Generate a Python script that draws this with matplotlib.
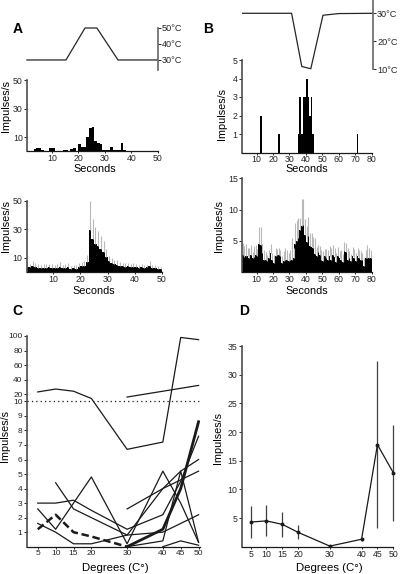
import numpy as np
import matplotlib.pyplot as plt

plt.rcParams['font.family'] = ['Liberation Sans', 'DejaVu Sans']
plt.rcParams['font.size'] = 6.5

W, H = 400, 574
nan = np.nan

# ---- panel A data
a_temp_t = [0.5, 15.3, 22.5, 27, 35, 50]
a_temp_T = [30, 30, 50, 50, 30, 30]
a_top_rate = [0, 0, 0, 1.5, 2, 2, 1, 0, 0, 2, 2, 0, 0, 0, 1, 1, 0, 1.5, 2, 0,
              5, 3, 3, 10, 16, 17, 7, 6, 5, 1, 1, 1, 3, 1, 1, 1, 5.5, 1, 0, 0,
              0, 0, 0, 0, 0, 0, 0, 0, 0, 0]
a_mean_rate = [3.5, 3.6, 4.7, 4.0, 3.0, 3.2, 3.0, 3.1, 3.4, 3.3, 3.0, 3.2, 4.0, 3.0, 3.1,
               4.0, 2.6, 2.8, 2.6, 4.0, 4.2, 4.7, 7.0, 29.6, 23.0, 19.8, 18.6, 16.3, 14.0,
               10.5, 7.7, 6.5, 5.8, 5.1, 4.4, 4.3, 4.0, 4.1, 3.8, 4.0, 3.5, 3.3, 3.6, 3.2,
               3.4, 4.7, 3.0, 3.1, 2.4, 2.3]
a_err = [3, 2.5, 3.5, 2.8, 2.5, 2, 2.7, 2.4, 2.2, 2.5, 2, 2.8, 3.2, 2.2, 2.4, 2.6, 2, 2.2,
         2.4, 2.6, 3, 3.4, 5, 20, 14, 12, 10, 9.3, 8, 5.5, 4, 3.6, 3, 3.2, 2.6, 2.4, 2.2,
         2.4, 2, 2.5, 2.2, 2, 2.4, 2.1, 2, 3, 2, 2.3, 1.8, 1.5]

# ---- panel B data
b_temp_t = [1, 31.3, 37.5, 43, 50.4, 60, 80.9]
b_temp_T = [30, 30, 11, 10.2, 29.3, 29.9, 30]
b_top_sec = [12, 23, 35, 36, 37, 38, 39, 40, 41, 42, 43, 44, 71]
b_top_rate = [2, 1, 1, 3, 1, 3, 3, 4, 3, 2, 3, 1, 1]
b_mean_rate = [3.3, 2.8, 2.4, 2.5, 2.5, 2.3, 2.8, 2.2, 2.4, 2.8, 2.5, 4.5, 4.4, 3.0, 2.0,
               2.0, 1.8, 2.2, 3.0, 2.0, 1.5, 2.6, 2.7, 2.7, 2.5, 1.4, 1.8, 2.0, 2.0, 1.8,
               2.0, 2.0, 2.2, 4.5, 5.0, 5.5, 6.8, 7.4, 7.5, 6.0, 4.8, 5.8, 4.2, 4.0, 3.8,
               2.9, 2.5, 3.2, 2.8, 2.0, 1.8, 2.5, 2.2, 2.0, 2.6, 2.0, 2.7, 2.4, 1.6, 2.5,
               2.3, 2.0, 1.6, 3.3, 3.2, 2.0, 2.2, 1.8, 2.5, 2.2, 1.8, 2.5, 2.2, 1.9, 2.0,
               1.0, 2.3, 2.3, 2.3, 2.3]
b_err = [1.6, 1.9, 1.8, 2.0, 1.4, 1.6, 1.5, 1.0, 1.7, 1.6, 1.2, 2.7, 2.8, 1.5, 1.6, 1.2,
         1.0, 1.3, 1.5, 1.0, 1.2, 1.3, 1.0, 1.2, 1.1, 1.2, 1.6, 1.8, 1.5, 1.3, 1.5, 3.4,
         1.6, 3.4, 3.3, 3.2, 1.8, 4.3, 4.2, 2.5, 2.6, 3.0, 2.0, 2.2, 1.8, 2.6, 1.5, 1.2,
         1.3, 1.6, 1.5, 1.2, 1.5, 1.6, 1.5, 1.8, 1.6, 1.4, 1.4, 1.5, 1.0, 1.6, 1.3, 1.5,
         1.4, 1.8, 1.2, 1.1, 1.5, 1.5, 1.2, 1.3, 1.4, 1.5, 1.0, 1.3, 1.3, 2.0, 1.6, 1.2]

# ---- panel C data (individual units)
c_deg = [5, 10, 15, 20, 30, 40, 45, 50]
c_u1 = [23, 27, 24, 14, 6.7, 7.2, 98, 95]
c_u2 = [nan, nan, nan, nan, 16, 24, 28, 32]
c_u3 = [3.0, 3.0, 3.2, 2.5, 1.2, 2.2, 4.5, 7.6]
c_u4 = [2.6, 1.2, 3.0, 4.8, 0.2, 5.2, 3.0, 0.3]
c_u5 = [nan, 4.4, 2.6, 2.0, 0.8, 4.0, 5.2, 6.0]
c_u6 = [1.6, 1.0, 0.2, 0.2, 0.8, 1.0, 1.6, 2.2]
c_u7 = [nan, nan, nan, nan, 2.6, 4.0, 4.6, 5.2]
c_u8 = [nan, nan, nan, nan, 0.0, 0.4, 5.2, 0.3]
c_u9 = [nan, nan, nan, nan, nan, 0.0, 0.4, 0.1]
c_thick = [nan, nan, nan, nan, 0.0, 1.2, 4.0, 8.6]
c_dashed = [1.2, 2.2, 1.0, 0.7, 0.0, nan, nan, nan]

# ---- panel D data (mean +- error)
d_deg = [5, 10, 15, 20, 30, 40, 45, 50]
d_mean = [4.3, 4.5, 3.9, 2.5, 0.1, 1.3, 17.8, 12.9]
d_err = [2.8, 2.7, 2.2, 1.2, 0.0, 0.3, 14.5, 8.4]

fig = plt.figure(figsize=(W / 100, H / 100), dpi=100)


def axes_px(x0, y0, x1, y1):
    return fig.add_axes([x0 / W, 1 - y1 / H, (x1 - x0) / W, (y1 - y0) / H])


def text_px(x, y, s, **kw):
    fig.text(x / W, 1 - y / H, s, **kw)


def style(ax, size=6.3):
    for s in ['top', 'right']:
        ax.spines[s].set_visible(False)
    ax.spines['left'].set_color('0.3')
    ax.spines['left'].set_linewidth(1.2)
    ax.spines['bottom'].set_color('0.1')
    ax.spines['bottom'].set_linewidth(0.9)
    ax.tick_params(length=2, width=0.7, pad=1, colors='0.15', labelsize=size)
    ax.tick_params(axis='x', length=1.5, pad=0.6)
    ax.patch.set_alpha(0)


def temp_axes(ax, bounds, ticks):
    for s in ['top', 'left', 'bottom']:
        ax.spines[s].set_visible(False)
    ax.spines['right'].set_bounds(*bounds)
    ax.spines['right'].set_color('0.4')
    ax.spines['right'].set_linewidth(1.2)
    ax.yaxis.tick_right()
    ax.set_yticks(ticks)
    ax.set_yticklabels([f'{t}°C' for t in ticks])
    ax.set_xticks([])
    ax.tick_params(length=2, width=0.7, pad=1, colors='0.15', labelsize=6.6)
    ax.patch.set_alpha(0)


# ---------- A
ax = axes_px(25.6, 20, 157.6, 75)
ax.plot(a_temp_t, a_temp_T, color='0.15', lw=0.9)
ax.set_xlim(0, 50)
ax.set_ylim(20.6, 55)
temp_axes(ax, (23.8, 50), [30, 40, 50])

ax = axes_px(26.9, 80, 157.6, 151.3)
ax.bar(np.arange(50), a_top_rate, width=1, align='edge', color='black', lw=0)
ax.set_xlim(0.5, 50)
ax.set_ylim(0, 50)
ax.set_yticks([10, 30, 50])
ax.set_xticks([10, 20, 30, 40, 50])
style(ax)

ax = axes_px(26.5, 200.7, 162, 272.3)
sec = np.arange(50)
ax.vlines(sec + 0.5, a_mean_rate, np.array(a_mean_rate) + np.array(a_err), color='0.72', lw=0.8)
ax.bar(sec, a_mean_rate, width=1, align='edge', color='black', lw=0)
ax.set_xlim(0.2, 50)
ax.set_ylim(0, 50)
ax.set_yticks([10, 30, 50])
ax.set_xticks([10, 20, 30, 40, 50])
style(ax)

# ---------- B
ax = axes_px(241.9, 0, 373, 75)
ax.plot(b_temp_t, b_temp_T, color='0.15', lw=0.9)
ax.set_xlim(1, 80.9)
ax.set_ylim(7.96, 34.75)
temp_axes(ax, (10, 34.75), [10, 20, 30])

ax = axes_px(241.9, 60, 371.5, 152.5)
ax.bar(b_top_sec, b_top_rate, width=1, align='edge', color='black', lw=0)
ax.set_xlim(1, 80)
ax.set_ylim(0, 5)
ax.set_yticks([1, 2, 3, 4, 5])
ax.set_xticks(range(10, 81, 10))
style(ax)

ax = axes_px(241.9, 178.3, 371.5, 272)
sec = np.arange(80)
ax.vlines(sec + 0.5, b_mean_rate, np.array(b_mean_rate) + np.array(b_err), color='0.72', lw=0.8)
ax.bar(sec, b_mean_rate, width=1, align='edge', color='black', lw=0)
ax.set_xlim(1, 80)
ax.set_ylim(0, 15)
ax.set_yticks([5, 10, 15])
ax.set_xticks(range(10, 81, 10))
style(ax)

# ---------- C
def fwd(y):
    y = np.asarray(y, float)
    return np.where(y <= 10, y, 10 + (y - 10) / 20.0)


def inv(d):
    d = np.asarray(d, float)
    return np.where(d <= 10, d, 10 + (d - 10) * 20.0)


ax = axes_px(26.7, 336, 200, 546.7)
ax.set_yscale('function', functions=(fwd, inv))
for unit in [c_u1, c_u2, c_u3, c_u4, c_u5, c_u6, c_u7, c_u8, c_u9]:
    ax.plot(c_deg, unit, color='0.1', lw=0.9)
ax.plot(c_deg, c_thick, color='0.1', lw=2.0)
ax.plot(c_deg, c_dashed, color='0.1', lw=1.8, ls=(0, (3, 1.5)))
ax.axhline(10, color='0.1', lw=0.9, ls=(0, (1, 2.5)))
ax.set_xlim(1.9, 50.4)
ax.set_ylim(0, 100)
ax.set_yticks(list(range(1, 11)) + [20, 40, 60, 80, 100])
ax.set_yticklabels([str(v) for v in list(range(1, 11)) + [20, 40, 60, 80, 100]])
ax.minorticks_off()
ax.set_xticks(c_deg)
style(ax, size=6.0)

# ---------- D
ax = axes_px(241.7, 346, 395.2, 546.7)
ax.errorbar(d_deg, d_mean, yerr=d_err, color='0.1', lw=0.9, ecolor='0.25', elinewidth=0.9,
            marker='o', ms=1.8, capsize=0)
ax.set_xlim(2.2, 50.6)
ax.set_ylim(0, 35)
ax.set_yticks([5, 10, 15, 20, 25, 30, 35])
ax.set_xticks(d_deg)
style(ax)
ax.spines['bottom'].set_bounds(2.2, 50)

# ---------- labels
for x, y, s in [(18, 33, 'A'), (208, 33, 'B'), (17.5, 315, 'C'), (244.5, 315, 'D')]:
    text_px(x, y, s, fontsize=10, fontweight='bold', ha='center', va='baseline')
for x, y in [(6, 106), (6, 226), (222, 114), (219, 226), (5, 436), (218, 438)]:
    text_px(x, y, 'Impulses/s', fontsize=7.8, rotation=90, ha='center', va='center')
for x, y in [(95, 172.5), (94, 294), (307, 172.5), (307, 294)]:
    text_px(x, y, 'Seconds', fontsize=7.8, ha='center', va='baseline')
for x, y in [(115, 571), (329, 571)]:
    text_px(x, y, 'Degrees (C°)', fontsize=8.2, ha='center', va='baseline')

fig.savefig('out.png', dpi=100)
